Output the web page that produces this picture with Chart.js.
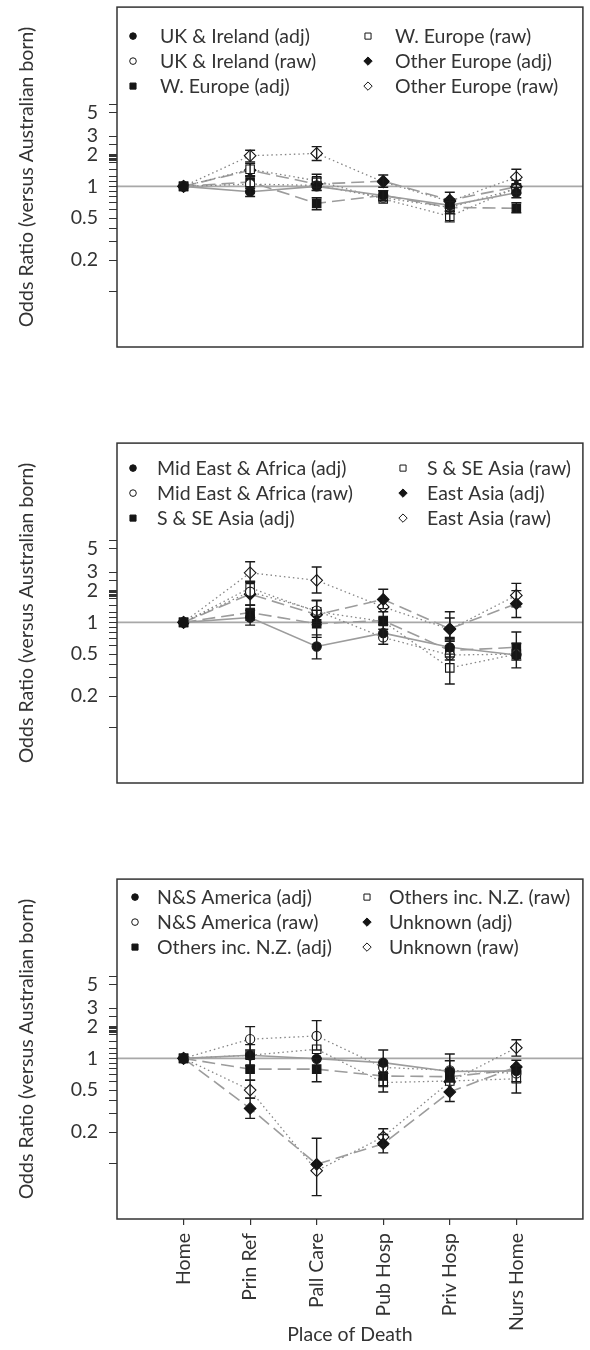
<!DOCTYPE html>
<html>
<head>
<meta charset="utf-8">
<script src="https://cdn.jsdelivr.net/npm/chart.js@4.4.1/dist/chart.umd.min.js"></script>
<style>
    html, body { margin: 0; padding: 0; background: #fff; }
    body { width: 590px; height: 1350px; position: relative; overflow: hidden; }
    .panel { position: absolute; left: 0; }
</style>
</head>
<body>
<div class="panel" style="top:0px"><canvas id="chart1" width="590" height="360"></canvas></div>
<div class="panel" style="top:436px"><canvas id="chart2" width="590" height="360"></canvas></div>
<div class="panel" style="top:872px"><canvas id="chart3" width="590" height="478"></canvas></div>
<script>
(function () {
    "use strict";

    //------------------------------- Data -----------------------------
    var places = ['Home', 'Prin Ref', 'Pall Care', 'Pub Hosp', 'Priv Hosp', 'Nurs Home'];
    var yTickValues = [0.1, 0.2, 0.3, 0.4, 0.5, 0.6, 0.7, 0.8, 0.9, 1, 1.11, 1.25, 1.43, 1.67,
        1.7, 1.75, 1.8, 1.85, 1.9, 1.95, 2, 2.5, 3, 5, 6];
    var yLabelValues = [5, 3, 2, 1, 0.5, 0.2];
    var yLabelTexts = ['5', '3', '2', '1', '0.5', '0.2'];
    var refValue = 1;

    // Europe
    var p1Labels = ['UK & Ireland (adj)', 'UK & Ireland (raw)', 'W. Europe (adj)', 'W. Europe (raw)', 'Other Europe (adj)', 'Other Europe (raw)'];
    var ukIrelandAdj = [1, 0.89, 1.0, 0.82, 0.66, 0.87];
    var ukIrelandAdjCI = [null, [0.80, 0.99], [0.91, 1.10], [0.74, 0.91], [0.58, 0.76], [0.78, 0.98]];
    var ukIrelandRaw = [1, 1.05, 1.02, 0.78, 0.63, 0.95];
    var ukIrelandRawCI = [null, null, null, null, null, null];
    var wEuropeAdj = [1, 1.10, 0.69, 0.82, 0.63, 0.62];
    var wEuropeAdjCI = [null, [0.96, 1.26], [0.60, 0.78], [0.73, 0.91], [0.55, 0.72], [0.56, 0.70]];
    var wEuropeRaw = [1, 1.45, 1.13, 0.76, 0.52, 0.97];
    var wEuropeRawCI = [null, null, [0.98, 1.30], null, [0.46, 0.58], null];
    var otherEuropeAdj = [1, 1.42, 1.05, 1.12, 0.74, 0.99];
    var otherEuropeAdjCI = [null, [1.24, 1.64], [0.92, 1.20], [0.98, 1.28], [0.62, 0.88], [0.86, 1.14]];
    var otherEuropeRaw = [1, 1.95, 2.05, 1.10, 0.72, 1.22];
    var otherEuropeRawCI = [null, [1.70, 2.20], [1.76, 2.38], null, null, [1.04, 1.45]];

    // Africa / Asia
    var p2Labels = ['Mid East & Africa (adj)', 'Mid East & Africa (raw)', 'S & SE Asia (adj)', 'S & SE Asia (raw)', 'East Asia (adj)', 'East Asia (raw)'];
    var midEastAdj = [1, 1.11, 0.59, 0.79, 0.58, 0.49];
    var midEastAdjCI = [null, [0.94, 1.30], [0.45, 0.76], [0.62, 0.95], [0.47, 0.72], [0.37, 0.63]];
    var midEastRaw = [1, 1.95, 1.29, 0.72, 0.49, 0.50];
    var midEastRawCI = [null, null, null, null, null, null];
    var ssAsiaAdj = [1, 1.24, 0.97, 1.04, 0.54, 0.58];
    var ssAsiaAdjCI = [null, [1.05, 1.46], [0.72, 1.30], [0.86, 1.26], [0.44, 0.68], [0.44, 0.81]];
    var ssAsiaRaw = [1, 2.12, 1.26, 1.02, 0.37, 0.50];
    var ssAsiaRawCI = [null, null, [1.0, 1.62], null, [0.26, 0.50], null];
    var eastAsiaAdj = [1, 1.85, 1.18, 1.65, 0.87, 1.50];
    var eastAsiaAdjCI = [null, [1.45, 2.45], [0.95, 1.60], [1.35, 2.06], [0.70, 1.10], [1.11, 2.00]];
    var eastAsiaRaw = [1, 2.95, 2.50, 1.40, 0.86, 1.80];
    var eastAsiaRawCI = [null, [2.40, 3.75], [1.90, 3.35], null, [0.66, 1.26], [1.40, 2.34]];

    // Americas / others
    var p3Labels = ['N&S America (adj)', 'N&S America (raw)', 'Others inc. N.Z. (adj)', 'Others inc. N.Z. (raw)', 'Unknown (adj)', 'Unknown (raw)'];
    var nsAmericaAdj = [1, 1.07, 0.99, 0.91, 0.75, 0.76];
    var nsAmericaAdjCI = [null, [0.85, 1.35], null, [0.72, 1.20], [0.60, 0.95], null];
    var nsAmericaRaw = [1, 1.52, 1.63, 0.82, 0.77, 0.72];
    var nsAmericaRawCI = [null, [1.20, 2.00], [1.20, 2.28], null, [0.62, 1.10], null];
    var othersNzAdj = [1, 0.79, 0.79, 0.68, 0.67, 0.78];
    var othersNzAdjCI = [null, [0.62, 1.00], [0.60, 1.00], [0.55, 0.85], null, [0.60, 0.96]];
    var othersNzRaw = [1, 1.07, 1.22, 0.59, 0.61, 0.64];
    var othersNzRawCI = [null, null, null, [0.48, 0.72], null, [0.47, 0.85]];
    var unknownAdj = [1, 0.335, 0.099, 0.155, 0.48, 0.83];
    var unknownAdjCI = [null, [0.27, 0.42], [0.05, 0.175], [0.127, 0.19], [0.39, 0.60], null];
    var unknownRaw = [1, 0.50, 0.086, 0.18, 0.60, 1.26];
    var unknownRawCI = [null, [0.42, 0.62], null, [0.15, 0.215], null, [1.05, 1.50]];

    //------------------------------- Styles -----------------------------
    var FONT = 'Lato';
    var FSIZE = 19.5;
    var TEXT = '#333';
    // order: filled circle, open circle, filled square, open square, filled diamond, open diamond
    var markStyles = [
        { pointStyle: 'circle', radius: 4.6, filled: true, dash: [] },
        { pointStyle: 'circle', radius: 4.6, filled: false, dash: [1.5, 3] },
        { pointStyle: 'rect', radius: 6, filled: true, dash: [13, 6] },
        { pointStyle: 'rect', radius: 6, filled: false, dash: [1.5, 3] },
        { pointStyle: 'rectRot', radius: 5.8, filled: true, dash: [13, 6] },
        { pointStyle: 'rectRot', radius: 5.8, filled: false, dash: [1.5, 3] }
    ];

    Chart.defaults.font.family = FONT;
    Chart.defaults.color = TEXT;

    function makeDatasets(labels, values, cis) {
        return labels.map(function (label, k) {
            var st = markStyles[k];
            return {
                label: label,
                data: values[k].map(function (v, i) { return { x: i, y: v }; }),
                ci: cis[k],
                borderColor: st.filled ? '#9c9c9c' : '#858585',
                borderWidth: st.filled ? 1.6 : 1.3,
                borderDash: st.dash,
                pointStyle: st.pointStyle,
                pointRadius: st.radius,
                pointHoverRadius: st.radius,
                pointBackgroundColor: st.filled ? '#151515' : '#fff',
                pointBorderColor: '#151515',
                pointBorderWidth: 1.1,
                fill: false,
                tension: 0
            };
        });
    }

    // box, reference line at 1, error bars, legend inside the box
    var framePlugin = {
        id: 'frame',
        beforeDatasetsDraw: function (chart) {
            var ctx = chart.ctx, a = chart.chartArea;
            var y = chart.scales.y.getPixelForValue(refValue);
            ctx.save();
            ctx.strokeStyle = '#a8a8a8';
            ctx.lineWidth = 1.6;
            ctx.beginPath();
            ctx.moveTo(a.left, y);
            ctx.lineTo(a.right, y);
            ctx.stroke();
            ctx.restore();
        },
        afterDatasetsDraw: function (chart) {
            var ctx = chart.ctx, xs = chart.scales.x, ys = chart.scales.y;
            ctx.save();
            ctx.strokeStyle = '#1a1a1a';
            ctx.lineWidth = 1.4;
            chart.data.datasets.forEach(function (ds) {
                if (!ds.ci) return;
                ds.ci.forEach(function (r, i) {
                    if (!r) return;
                    var x = xs.getPixelForValue(i);
                    var y1 = ys.getPixelForValue(r[0]);
                    var y2 = ys.getPixelForValue(r[1]);
                    ctx.beginPath();
                    ctx.moveTo(x, y1); ctx.lineTo(x, y2);
                    ctx.moveTo(x - 5, y1); ctx.lineTo(x + 5, y1);
                    ctx.moveTo(x - 5, y2); ctx.lineTo(x + 5, y2);
                    ctx.stroke();
                });
            });
            ctx.restore();
        },
        afterDraw: function (chart, args, opts) {
            var ctx = chart.ctx, a = chart.chartArea;
            ctx.save();
            ctx.strokeStyle = '#333';
            ctx.lineWidth = 1.5;
            ctx.strokeRect(a.left, a.top, a.right - a.left, a.bottom - a.top);

            ctx.font = FSIZE + 'px ' + FONT;
            ctx.textBaseline = 'middle';
            chart.data.datasets.forEach(function (ds, k) {
                var col = k < 3 ? 0 : 1;
                var row = k % 3;
                var mx = a.left + (col ? opts.col2 : opts.col1);
                var y = a.top + opts.top + row * 25;
                ctx.fillStyle = ds.pointBackgroundColor;
                ctx.strokeStyle = '#151515';
                ctx.lineWidth = 1;
                Chart.helpers.drawPoint(ctx, { pointStyle: ds.pointStyle, radius: ds.pointRadius * 0.72, borderWidth: 1, rotation: 0 }, mx, y);
                ctx.fillStyle = TEXT;
                ctx.fillText(ds.label, mx + opts.gap, y + 1);
            });
            ctx.restore();
        }
    };

    function LoadChart(canvasId, labels, values, cis, legendPos, showX) {
        var config = {
            type: 'line',
            data: { datasets: makeDatasets(labels, values, cis) },
            options: {
                responsive: false,
                animation: false,
                layout: { padding: { top: 7, right: 1, bottom: showX ? 0 : 13, left: 0 } },
                plugins: {
                    legend: { display: false },
                    tooltip: { enabled: false },
                    frame: legendPos
                },
                scales: {
                    x: {
                        type: 'linear',
                        min: -1,
                        max: 6,
                        display: showX,
                        afterBuildTicks: function (scale) {
                            scale.ticks = places.map(function (p, i) { return { value: i }; });
                        },
                        afterFit: function (scale) {
                            scale.height = showX ? 131 : 0;
                            scale.paddingLeft = 0;
                            scale.paddingRight = 0;
                        },
                        ticks: {
                            autoSkip: false,
                            minRotation: 90,
                            maxRotation: 90,
                            padding: 8,
                            color: TEXT,
                            font: { family: FONT, size: FSIZE },
                            callback: function (v) { return places[v]; }
                        },
                        grid: { drawOnChartArea: false, drawTicks: true, tickLength: 6, color: '#333', lineWidth: 1.2 },
                        border: { display: false },
                        title: {
                            display: true,
                            text: 'Place of Death',
                            color: TEXT,
                            font: { family: FONT, size: FSIZE },
                            padding: { top: 0, bottom: 4 }
                        }
                    },
                    y: {
                        type: 'logarithmic',
                        min: 0.03,
                        max: 50,
                        afterBuildTicks: function (scale) {
                            scale.ticks = yTickValues.map(function (v) { return { value: v }; });
                        },
                        afterFit: function (scale) {
                            scale.width = 117;
                            scale.paddingTop = 0;
                            scale.paddingBottom = 0;
                        },
                        ticks: {
                            autoSkip: false,
                            padding: 11,
                            color: TEXT,
                            font: { family: FONT, size: FSIZE },
                            callback: function (v) {
                                var i = yLabelValues.indexOf(v);
                                return i >= 0 ? yLabelTexts[i] : '';
                            }
                        },
                        grid: { drawOnChartArea: false, drawTicks: true, tickLength: 8, color: '#333', lineWidth: 1 },
                        border: { display: false },
                        title: {
                            display: true,
                            text: 'Odds Ratio (versus Australian born)',
                            color: TEXT,
                            font: { family: FONT, size: FSIZE },
                            padding: { top: 15, bottom: 0 }
                        }
                    }
                }
            },
            plugins: [framePlugin]
        };
        return new Chart(document.getElementById(canvasId).getContext('2d'), config);
    }

    LoadChart('chart1', p1Labels,
        [ukIrelandAdj, ukIrelandRaw, wEuropeAdj, wEuropeRaw, otherEuropeAdj, otherEuropeRaw],
        [ukIrelandAdjCI, ukIrelandRawCI, wEuropeAdjCI, wEuropeRawCI, otherEuropeAdjCI, otherEuropeRawCI],
        { top: 29, col1: 16, col2: 251, gap: 27 }, false);

    LoadChart('chart2', p2Labels,
        [midEastAdj, midEastRaw, ssAsiaAdj, ssAsiaRaw, eastAsiaAdj, eastAsiaRaw],
        [midEastAdjCI, midEastRawCI, ssAsiaAdjCI, ssAsiaRawCI, eastAsiaAdjCI, eastAsiaRawCI],
        { top: 25, col1: 16, col2: 286, gap: 24 }, false);

    LoadChart('chart3', p3Labels,
        [nsAmericaAdj, nsAmericaRaw, othersNzAdj, othersNzRaw, unknownAdj, unknownRaw],
        [nsAmericaAdjCI, nsAmericaRawCI, othersNzAdjCI, othersNzRawCI, unknownAdjCI, unknownRawCI],
        { top: 18, col1: 18, col2: 250, gap: 22 }, true);
})();
</script>
</body>
</html>
